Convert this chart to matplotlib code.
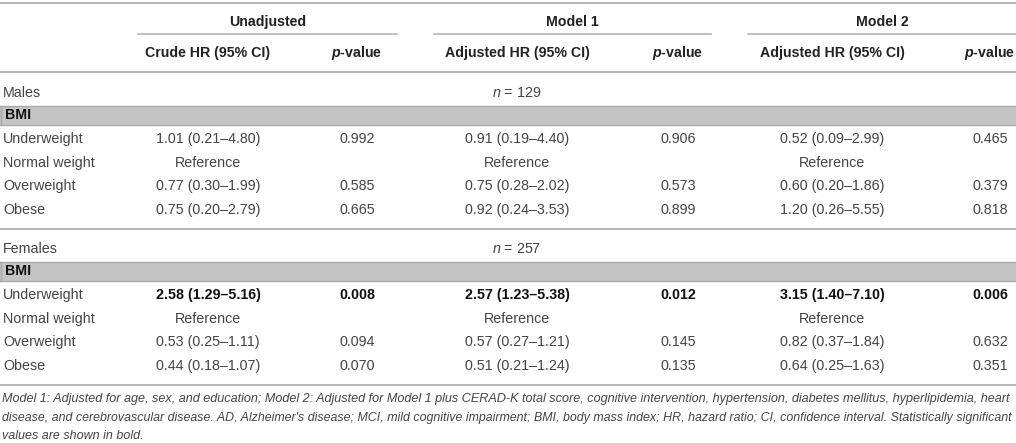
import matplotlib
matplotlib.use("Agg")
import matplotlib.pyplot as plt

plt.rcParams['font.family'] = ['Liberation Sans', 'DejaVu Sans']
plt.rcParams['mathtext.fontset'] = 'custom'
plt.rcParams['mathtext.it'] = 'Liberation Sans:italic'
plt.rcParams['mathtext.bf'] = 'Liberation Sans:italic:bold'
plt.rcParams['mathtext.rm'] = 'Liberation Sans'

# ---- table content ----
groups = ["Unadjusted", "Model 1", "Model 2"]
col_heads = ["Crude HR (95% CI)", "$\\mathbf{p}$-value",
             "Adjusted HR (95% CI)", "$\\mathbf{p}$-value",
             "Adjusted HR (95% CI)", "$\\mathbf{p}$-value"]
row_labels = ["Underweight", "Normal weight", "Overweight", "Obese"]

sexes = ["Males", "Females"]
n_sizes = [129, 257]

males_crude = ["1.01 (0.21–4.80)", "Reference", "0.77 (0.30–1.99)", "0.75 (0.20–2.79)"]
males_crude_p = ["0.992", "", "0.585", "0.665"]
males_m1 = ["0.91 (0.19–4.40)", "Reference", "0.75 (0.28–2.02)", "0.92 (0.24–3.53)"]
males_m1_p = ["0.906", "", "0.573", "0.899"]
males_m2 = ["0.52 (0.09–2.99)", "Reference", "0.60 (0.20–1.86)", "1.20 (0.26–5.55)"]
males_m2_p = ["0.465", "", "0.379", "0.818"]

females_crude = ["2.58 (1.29–5.16)", "Reference", "0.53 (0.25–1.11)", "0.44 (0.18–1.07)"]
females_crude_p = ["0.008", "", "0.094", "0.070"]
females_m1 = ["2.57 (1.23–5.38)", "Reference", "0.57 (0.27–1.21)", "0.51 (0.21–1.24)"]
females_m1_p = ["0.012", "", "0.145", "0.135"]
females_m2 = ["3.15 (1.40–7.10)", "Reference", "0.82 (0.37–1.84)", "0.64 (0.25–1.63)"]
females_m2_p = ["0.006", "", "0.632", "0.351"]

caption = [
    "Model 1: Adjusted for age, sex, and education; Model 2: Adjusted for Model 1 plus CERAD-K total score, cognitive intervention, hypertension, diabetes mellitus, hyperlipidemia, heart",
    "disease, and cerebrovascular disease. AD, Alzheimer's disease; MCI, mild cognitive impairment; BMI, body mass index; HR, hazard ratio; CI, confidence interval. Statistically significant",
    "values are shown in bold.",
]

blocks = [
    [males_crude, males_crude_p, males_m1, males_m1_p, males_m2, males_m2_p],
    [females_crude, females_crude_p, females_m1, females_m1_p, females_m2, females_m2_p],
]

# ---- layout (pixel units) ----
W, H = 1016, 443
col_x = [208, 357, 517, 678, 832, 990]
group_span = [(138, 397), (434, 711), (748, 1016)]
line_c = '#b4b4b4'
txt_c = '#444444'
head_c = '#222222'
fs = 10.3
hfs = 10.2

fig = plt.figure(figsize=(W / 100, H / 100), dpi=100)
ax = fig.add_axes([0, 0, 1, 1])
ax.set_xlim(0, W)
ax.set_ylim(H, 0)
ax.axis('off')

# header
ax.plot([0, W], [3, 3], color=line_c, lw=1.4)
for g, (a, b) in zip(groups, group_span):
    ax.text((a + b) / 2, 22, g, ha='center', va='center', fontsize=hfs,
            fontweight='bold', color=head_c)
    ax.plot([a, b], [34, 34], color=line_c, lw=1.2)
for x, h in zip(col_x, col_heads):
    ax.text(x, 53, h, ha='center', va='center', fontsize=hfs,
            fontweight='bold', color=head_c)
ax.plot([0, W], [72, 72], color=line_c, lw=1.4)

block_top = [93, 249]
for bi, top in enumerate(block_top):
    ax.text(3, top, sexes[bi], ha='left', va='center', fontsize=fs, color=txt_c)
    ax.text(col_x[2], top, "$n$ = %d" % n_sizes[bi], ha='center', va='center',
            fontsize=fs, color=txt_c)
    bar_top = top + 12.5
    ax.fill_between([0, W], bar_top, bar_top + 19, color='#c4c4c4', lw=0)
    ax.plot([0, W], [bar_top, bar_top], color='#a9a9a9', lw=1.0)
    ax.plot([0, W], [bar_top + 19, bar_top + 19], color='#a9a9a9', lw=1.0)
    ax.plot([0.5, 0.5], [bar_top, bar_top + 19], color='#a9a9a9', lw=1.0)
    ax.text(5, bar_top + 9.5, "BMI", ha='left', va='center', fontsize=hfs,
            fontweight='bold', color='#111111')
    cols = blocks[bi]
    for ri, lab in enumerate(row_labels):
        y = bar_top + 33.5 + ri * 23.7
        ax.text(3, y, lab, ha='left', va='center', fontsize=fs, color=txt_c)
        # a row is bold when its p-value is below 0.05 in that model
        for ci in range(0, 6, 2):
            p = cols[ci + 1][ri]
            bold = p != "" and float(p) < 0.05
            wt = 'bold' if bold else 'normal'
            c = '#111111' if bold else txt_c
            ax.text(col_x[ci], y, cols[ci][ri], ha='center', va='center',
                    fontsize=fs, fontweight=wt, color=c)
            ax.text(col_x[ci + 1], y, p, ha='center', va='center',
                    fontsize=fs, fontweight=wt, color=c)
    ax.plot([0, W], [bar_top + 123, bar_top + 123], color=line_c, lw=1.4)

# caption: full lines stretched to the table width by a tiny size tweak
renderer = fig.canvas.get_renderer()
cap_fs = 9.0
left, right = 2, 1013
for i, line in enumerate(caption):
    y = 402 + i * 18.5
    t = ax.text(left, y, line, ha='left', va='baseline', fontsize=cap_fs,
                style='italic', color=txt_c)
    if i < len(caption) - 1:
        for _ in range(3):
            w = t.get_window_extent(renderer).width
            t.set_fontsize(t.get_fontsize() * (right - left) / w)

fig.savefig('out.png', dpi=100)
